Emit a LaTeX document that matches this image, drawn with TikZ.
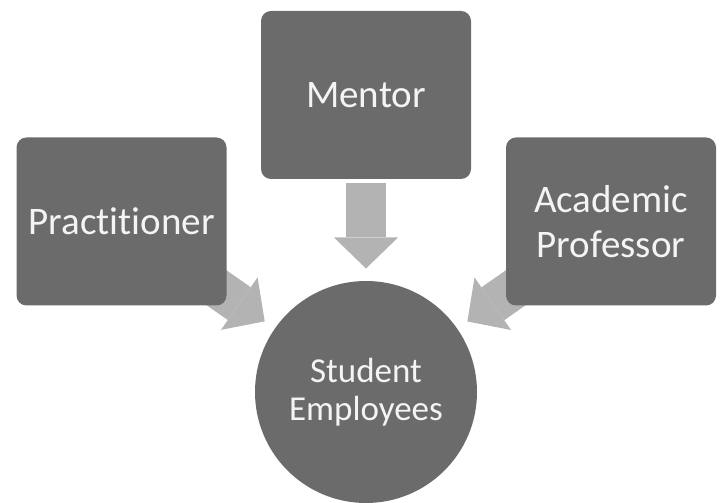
\documentclass[tikz,border=0pt]{standalone}
\usepackage{fontspec}
\setmainfont{Carlito}[Ligatures=NoCommon]
\usepackage{tikz}
\usetikzlibrary{arrows.meta,backgrounds}
\definecolor{boxgray}{HTML}{6B6B6B}
\definecolor{flowgray}{HTML}{B3B3B3}
\definecolor{labelwhite}{HTML}{F4F4F4}
\begin{document}
\begin{tikzpicture}[x=1pt,y=1pt,
      role/.style={fill=boxgray,rounded corners=10pt,minimum width=210pt,minimum height=168pt,
        text=labelwhite,align=center,font=\fontsize{39}{45}\selectfont},
      hub/.style={circle,fill=boxgray,minimum size=222pt,inner sep=0pt,
        text=labelwhite,align=center,font=\fontsize{35}{38}\selectfont},
      flow/.style={draw=flowgray,line width=40pt,shorten <=88pt,shorten >=123.5pt,
        -{Triangle[length=31pt 0 0,width=64pt 0 0,line width=0pt,fill=flowgray]}}]
      \useasboundingbox (0,0) rectangle (721,503);
      \node[role] (ment) at (366,408) {Mentor};
      \node[role] (prac) at (121.5,281.5) {Practitioner};
      \node[role] (acad) at (611,281.5) {Academic\\Professor};
      \node[hub] (stud) at (366,111) {Student\\Employees};
      \begin{scope}[on background layer]
      \draw[flow] (ment.center) -- (stud.center);
      \draw[flow] (prac.center) -- (stud.center);
      \draw[flow] (acad.center) -- (stud.center);
      \end{scope}
    \end{tikzpicture}
\end{document}
